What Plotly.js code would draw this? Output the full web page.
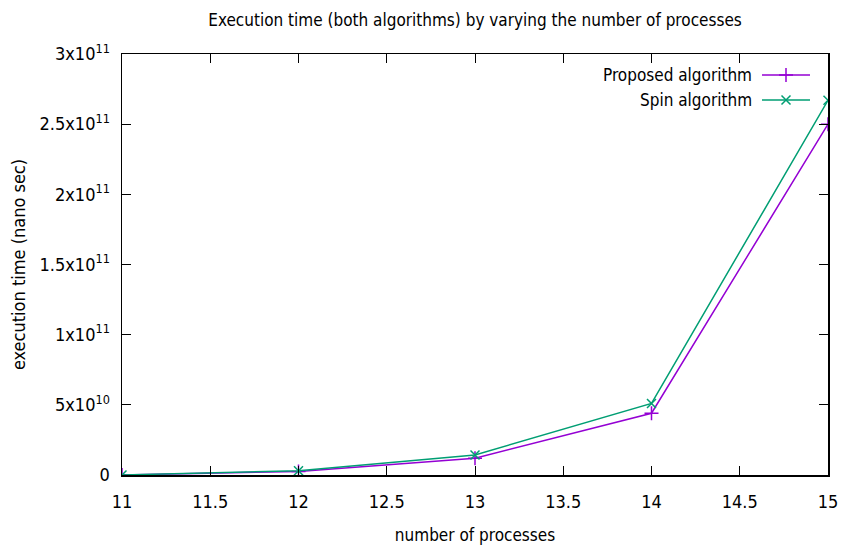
<!DOCTYPE html>
<html><head><meta charset="utf-8">
<script src="https://cdn.plot.ly/plotly-3.0.1.min.js"></script>
<style>body{margin:0;background:#fff}#c{width:841px;height:549px}</style>
</head><body><div id="c"></div>
<script>
var processes = [11, 12, 13, 14, 15];
var proposed = [0.02e9, 2.5e9, 1.2e10, 4.4e10, 2.50e11];
var spin = [0.03e9, 3.0e9, 1.43e10, 5.1e10, 2.67e11];
var yTickVals = [0, 5e10, 1e11, 1.5e11, 2e11, 2.5e11, 3e11];
var yTickText = ['0', '5x10<sup>10</sup>', '1x10<sup>11</sup>', '1.5x10<sup>11</sup>', '2x10<sup>11</sup>', '2.5x10<sup>11</sup>', '3x10<sup>11</sup>'];
var xTickVals = [11, 11.5, 12, 12.5, 13, 13.5, 14, 14.5, 15];
var seriesNames = ['Proposed algorithm', 'Spin algorithm'];
var purple = '#9400D3', green = '#009E73';
var font = 'DejaVu Sans Condensed, DejaVu Sans, sans-serif';

var traces = [
  {x: processes, y: proposed, mode: 'lines+markers', name: seriesNames[0],
   line: {color: purple, width: 1.5}, marker: {symbol: 'cross-thin', size: 10, line: {color: purple, width: 1.5}}},
  {x: processes, y: spin, mode: 'lines+markers', name: seriesNames[1],
   line: {color: green, width: 1.5}, marker: {symbol: 'x-thin', size: 9, line: {color: green, width: 1.5}}},
  {x: [0.5], y: [0.5], xaxis: 'x2', yaxis: 'y2', mode: 'markers', hoverinfo: 'skip',
   marker: {symbol: 'cross-thin', size: 10, line: {color: purple, width: 1.5}}},
  {x: [0.5], y: [0.5], xaxis: 'x2', yaxis: 'y2', mode: 'markers', hoverinfo: 'skip',
   marker: {symbol: 'x-thin', size: 9, line: {color: green, width: 1.5}}}
];
var W = 841, H = 549, L = 122, R = 13, T = 54, B = 74;
var pw = W - L - R, ph = H - T - B;
function px(x){return (x - L)/pw;}
function py(y){return 1 - (y - T)/ph;}
traces[2].x = [px(786)]; traces[2].y = [py(75)];
traces[3].x = [px(786)]; traces[3].y = [py(100)];

var layout = {
  width: W, height: H,
  margin: {l: L, r: R, t: T, b: B},
  paper_bgcolor: '#fff', plot_bgcolor: '#fff',
  showlegend: false,
  font: {family: font, size: 17, color: '#000'},
  title: {text: 'Execution time (both algorithms) by varying the number of processes',
          x: 0.5, xref: 'paper', xanchor: 'center', y: 1 - 20/H, yanchor: 'middle', font: {size: 17}},
  xaxis: {range: [11, 15], tickvals: xTickVals, ticktext: xTickVals.map(String),
          ticks: 'inside', ticklen: 9, tickwidth: 1, tickcolor: '#000',
          tickfont: {size: 18}, ticklabelstandoff: 10,
          showline: true, linecolor: '#000', linewidth: 1.5, mirror: 'ticks',
          showgrid: false, zeroline: false,
          title: {text: 'number of processes', standoff: 18, font: {size: 17}}},
  yaxis: {range: [0, 3e11], tickvals: yTickVals, ticktext: yTickText,
          ticks: 'inside', ticklen: 9, tickwidth: 1, tickcolor: '#000',
          tickfont: {size: 18}, ticklabelstandoff: 7,
          showline: true, linecolor: '#000', linewidth: 1.5, mirror: 'ticks',
          showgrid: false, zeroline: false,
          title: {text: 'execution time (nano sec)', standoff: 9, font: {size: 18}}},
  xaxis2: {overlaying: 'x', range: [0, 1], visible: false, fixedrange: true},
  yaxis2: {overlaying: 'y', range: [0, 1], visible: false, fixedrange: true},
  shapes: [
    {type: 'line', xref: 'paper', yref: 'paper', x0: px(762), x1: px(810), y0: py(75), y1: py(75), line: {color: purple, width: 1.5}},
    {type: 'line', xref: 'paper', yref: 'paper', x0: px(762), x1: px(810), y0: py(100), y1: py(100), line: {color: green, width: 1.5}}
  ],
  annotations: [
    {xref: 'paper', yref: 'paper', x: px(754), y: py(75), xanchor: 'right', yanchor: 'middle', showarrow: false, text: seriesNames[0], font: {size: 17}},
    {xref: 'paper', yref: 'paper', x: px(754), y: py(100), xanchor: 'right', yanchor: 'middle', showarrow: false, text: seriesNames[1], font: {size: 17}}
  ]
};
Plotly.newPlot('c', traces, layout, {displayModeBar: false, staticPlot: true});
</script></body></html>
